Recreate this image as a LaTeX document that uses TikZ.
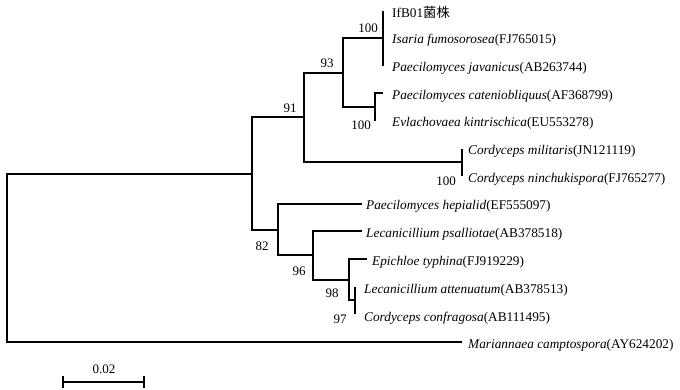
\documentclass[tikz,border=0pt]{standalone}
\usepackage{fontspec}
\setmainfont{Liberation Serif}
\newfontfamily\cjk{Noto Sans CJK SC}
\begin{document}
\begin{tikzpicture}[x=1pt,y=-1pt,
  branch/.style={line width=2pt, line join=miter, line cap=butt},
  leaf/.style={anchor=west, inner sep=0pt, font=\fontsize{13.3}{15}\selectfont},
  boot/.style={inner sep=0pt, font=\fontsize{13}{15}\selectfont}]
\useasboundingbox (0,0) rectangle (680,389);
% leaf tips
\coordinate (t0) at (383,10.5);
\coordinate (t1) at (383,38.1);
\coordinate (t2) at (383,65.7);
\coordinate (t3) at (383,93.3);
\coordinate (t4) at (375,120.9);
\coordinate (t5) at (462,148.5);
\coordinate (t6) at (462,176.1);
\coordinate (t7) at (362,203.7);
\coordinate (t8) at (362,231.3);
\coordinate (t9) at (367,258.9);
\coordinate (t10) at (355,286.5);
\coordinate (t11) at (355,314.1);
\coordinate (t12) at (462,341.7);
% internal nodes
\coordinate (a100) at (383,38.1);
\coordinate (b100) at (375,107.1);
\coordinate (c93) at (343,72.6);
\coordinate (cord) at (462,162.3);
\coordinate (d91) at (304,117.45);
\coordinate (e97) at (355,300.3);
\coordinate (f98) at (349,279.6);
\coordinate (g96) at (313,255.45);
\coordinate (h82) at (278,229.6);
\coordinate (iA) at (252,173.5);
\coordinate (root) at (7,257.6);
% branches
\draw[branch] (t0) -- (t2);
\draw[branch] (t3) -- (b100 |- t3) -- (t4);
\draw[branch] (a100) -| (c93) |- (b100);
\draw[branch] (t5) -- (t6);
\draw[branch] (c93) -| (d91) |- (cord);
\draw[branch] (t10) -- (t11);
\draw[branch] (t9) -| (f98) |- (e97);
\draw[branch] (t8) -| (g96) |- (f98);
\draw[branch] (t7) -| (h82) |- (g96);
\draw[branch] (d91) -| (iA) |- (h82);
\draw[branch] (iA) -| (root) |- (t12);
% leaf labels
\node[leaf] (l0) at (392,12.5) {IfB01{\cjk 菌株}};
\node[leaf] (l1) at (392,40.5) {\textit{Isaria fumosorosea}(FJ765015)};
\node[leaf] (l2) at (392,68.5) {\textit{Paecilomyces javanicus}(AB263744)};
\node[leaf] (l3) at (392,96) {\textit{Paecilomyces cateniobliquus}(AF368799)};
\node[leaf] (l4) at (392,123.5) {\textit{Evlachovaea kintrischica}(EU553278)};
\node[leaf] (l5) at (468,151.5) {\textit{Cordyceps militaris}(JN121119)};
\node[leaf] (l6) at (468,179) {\textit{Cordyceps ninchukispora}(FJ765277)};
\node[leaf] (l7) at (366,206.5) {\textit{Paecilomyces hepialid}(EF555097)};
\node[leaf] (l8) at (366,234.5) {\textit{Lecanicillium psalliotae}(AB378518)};
\node[leaf] (l9) at (372,262.5) {\textit{Epichloe typhina}(FJ919229)};
\node[leaf] (l10) at (364,290.5) {\textit{Lecanicillium attenuatum}(AB378513)};
\node[leaf] (l11) at (364,318.5) {\textit{Cordyceps confragosa}(AB111495)};
\node[leaf] (l12) at (468,345.5) {\textit{Mariannaea camptospora}(AY624202)};
% bootstrap values
\node[boot] (s1) at (368,28) {100};
\node[boot] (s2) at (327,63) {93};
\node[boot] (s3) at (290,108) {91};
\node[boot] (s4) at (361,125) {100};
\node[boot] (s5) at (446,181) {100};
\node[boot] (s6) at (262,246) {82};
\node[boot] (s7) at (299,271) {96};
\node[boot] (s8) at (332,293) {98};
\node[boot] (s9) at (340,319) {97};
% scale bar
\coordinate (sb1) at (63,382);
\coordinate (sb2) at (144,382);
\draw[branch] (sb1) -- (sb2);
\draw[line width=2.5pt] ([yshift=-6pt]sb1) -- ([yshift=6pt]sb1);
\draw[line width=2.5pt] ([yshift=-6pt]sb2) -- ([yshift=6pt]sb2);
\node[boot] (sbl) at (104,369) {0.02};
\end{tikzpicture}
\end{document}
